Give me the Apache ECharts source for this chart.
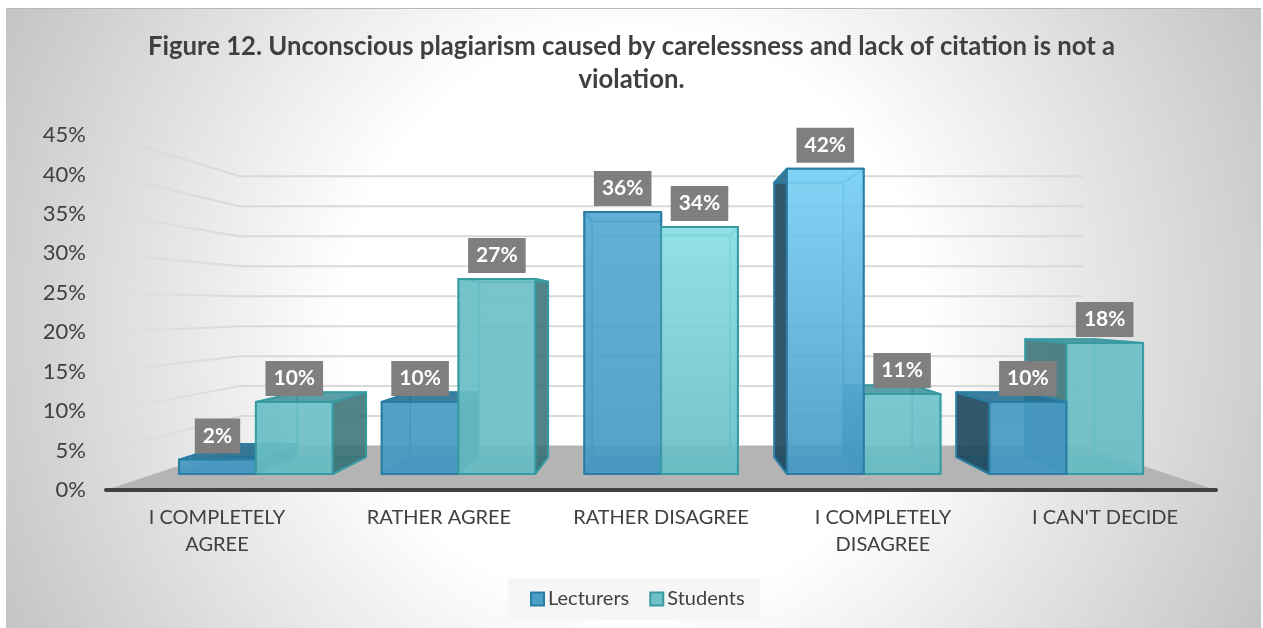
<!DOCTYPE html>
<html><head><meta charset="utf-8">
<style>html,body{margin:0;padding:0;background:#fff}
#bg{position:absolute;left:6px;top:8px;width:1255px;height:620px;box-sizing:border-box;border-top:1px solid #b8b8b8;
background:radial-gradient(circle 700px at 628px 310px,#fff 0%,#fff 41%,#c4c4c4 100%)}
#c{position:absolute;left:0;top:0;width:1263px;height:628px}</style>
<script src="https://cdn.jsdelivr.net/npm/echarts@6/dist/echarts.min.js"></script>
</head><body><div id="bg"></div><div id="c"></div>
<script>
const titleText = 'Figure 12. Unconscious plagiarism caused by carelessness and lack of citation is not a\nviolation.';
const categories = ['I COMPLETELY AGREE', 'RATHER AGREE', 'RATHER DISAGREE', 'I COMPLETELY DISAGREE', "I CAN'T DECIDE"];
const lecturers = [2.0, 10.0, 36.4, 42.4, 10.0];
const students = [10.0, 27.1, 34.3, 11.1, 18.2];
const yTicks = [0, 5, 10, 15, 20, 25, 30, 35, 40, 45];

const FONT = 'Lato, "Open Sans", sans-serif';
const S_BACK = 0.76, S_F = 0.9126, S_B = 0.82, VP_Y = 307, VP_DX = 1, BAR_W = 0.379;

function proj(cs, px, py, s) {
  const vx = cs.x + cs.width / 2 + VP_DX;
  return [vx + (px - vx) * s, VP_Y + (py - VP_Y) * s];
}
function mix(a, b, t) { return a.map((c, k) => Math.round(c + (b[k] - c) * t)); }
function rgba(c, a) { return 'rgba(' + c.join(',') + ',' + a + ')'; }

function boxRenderer(side, pal) {
  return function (params, api) {
    const cs = params.coordSys;
    const i = api.value(0), v = api.value(1);
    const top = api.coord([i, v]), base = api.coord([i, 0]);
    const band = api.size([1, 0])[0];
    const w = band * BAR_W;
    const xl = side === 0 ? top[0] - w : top[0], xr = xl + w;
    const P = (x, y, s) => proj(cs, x, y, s);
    const f = [P(xl, top[1], S_F), P(xr, top[1], S_F), P(xr, base[1], S_F), P(xl, base[1], S_F)];
    const b = [P(xl, top[1], S_B), P(xr, top[1], S_B), P(xr, base[1], S_B), P(xl, base[1], S_B)];
    const rightOfVp = i > 2;
    const z0 = (rightOfVp ? side === 0 : side === 1) ? 20 : 10;
    const lw = 2;
    const poly = (pts, fill, stroke, z, width) => ({
      type: 'polygon', z2: z0 + z, shape: {points: pts},
      style: {fill: fill, stroke: stroke, lineWidth: width || lw, lineJoin: 'round'}, silent: true
    });
    const frontTop = mix(pal.base, pal.bright, pal.glow[i]);
    const frontFill = new echarts.graphic.LinearGradient(0, 0, 0, 1, [
      {offset: 0, color: rgba(frontTop, pal.alpha)}, {offset: 1, color: rgba(pal.base, pal.alpha)}
    ]);
    const outerLeft = (xl + xr) / 2 > cs.x + cs.width / 2 + VP_DX;
    const leftFace = [f[0], b[0], b[3], f[3]];
    const rightFace = [b[1], f[1], f[2], b[2]];
    const children = [
      poly(b, pal.back, pal.inner, 0, 1.5),
      poly([b[3], b[2], f[2], f[3]], pal.bottom, pal.inner, 1, 1.5),
      poly(leftFace, outerLeft ? pal.dark : pal.innerSide, outerLeft ? pal.edge : pal.inner, 2),
      poly(rightFace, outerLeft ? pal.innerSide : pal.dark, outerLeft ? pal.inner : pal.edge, 2),
      poly([b[0], b[1], f[1], f[0]], f[0][1] < VP_Y ? pal.innerSide : pal.topFace, pal.edge, 3),
      poly(f, frontFill, pal.edge, 4),
      {
        type: 'text', z2: 100, silent: true,
        x: (f[0][0] + f[1][0]) / 2, y: f[0][1] - 6,
        style: {
          text: Math.round(v) + '%', fill: '#fff', font: 'bold 21px ' + FONT,
          backgroundColor: '#7F7F7F', padding: [7, 8, 7, 8],
          align: 'center', verticalAlign: 'bottom'
        }
      }
    ];
    return {type: 'group', children: children};
  };
}

const bluePal = {
  base: [70, 152, 194], bright: [124, 210, 247], glow: [0, 0, 0.3, 1, 0], alpha: 0.88,
  back: 'rgba(60,150,190,0.3)', bottom: 'rgba(50,135,175,0.6)',
  dark: 'rgba(28,70,90,0.88)', innerSide: 'rgba(60,155,195,0.4)',
  topFace: 'rgba(36,110,145,0.85)', edge: '#2A7EA3', inner: 'rgba(60,150,190,0.75)'
};
const tealPal = {
  base: [104, 188, 196], bright: [138, 224, 230], glow: [0.1, 0.1, 1, 0.2, 0.1], alpha: 0.88,
  back: 'rgba(90,190,195,0.25)', bottom: 'rgba(80,175,180,0.5)',
  dark: 'rgba(50,105,110,0.8)', innerSide: 'rgba(90,190,195,0.35)',
  topFace: 'rgba(60,140,150,0.8)', edge: '#389AA3', inner: 'rgba(70,175,185,0.75)'
};

const chart = echarts.init(document.getElementById('c'), null, {renderer: 'canvas'});
chart.setOption({
  animation: false,
  backgroundColor: 'transparent',
  title: {
    text: titleText, left: 'center', top: 25,
    textStyle: {fontFamily: FONT, fontWeight: 'bold', fontSize: 25.7, lineHeight: 33, color: '#404040'}
  },
  grid: {left: 106, right: 47, top: 135, bottom: 138, containLabel: false},
  xAxis: {
    type: 'category', data: categories, z: 5,
    axisTick: {show: false},
    axisLine: {lineStyle: {color: '#404040', width: 4, cap: 'round'}},
    axisLabel: {
      color: '#404040', fontFamily: FONT, fontSize: 20, lineHeight: 27, margin: 14, interval: 0,
      formatter: v => v.replace('COMPLETELY ', 'COMPLETELY\n')
    }
  },
  yAxis: {
    type: 'value', min: 0, max: 45, interval: 5,
    axisLine: {show: false}, axisTick: {show: false}, splitLine: {show: false},
    axisLabel: {formatter: '{value}%', color: '#404040', fontFamily: FONT, fontSize: 22, margin: 20}
  },
  legend: {
    data: ['Lecturers', 'Students'], icon: 'rect', left: 508, top: 578, width: 252,
    padding: [11, 16, 11, 22], backgroundColor: '#F6F6F6',
    itemWidth: 13, itemHeight: 13, itemGap: 20,
    textStyle: {color: '#404040', fontFamily: FONT, fontSize: 20, padding: [0, 0, 0, -1]}
  },
  series: [
    {
      type: 'custom', name: 'walls', coordinateSystem: 'cartesian2d', z: 1, silent: true,
      data: yTicks.map(t => [0, t]),
      renderItem(params, api) {
        const cs = params.coordSys, t = api.value(1);
        const y = api.coord([0, t])[1];
        const a = proj(cs, cs.x, y, 1), b = proj(cs, cs.x, y, S_BACK), c = proj(cs, cs.x + cs.width, y, S_BACK);
        const stroke = new echarts.graphic.LinearGradient(a[0], 0, b[0], 0, [
          {offset: 0, color: 'rgba(205,205,205,0)'}, {offset: 0.12, color: 'rgba(205,205,205,0)'}, {offset: 1, color: '#D9D9D9'}
        ], true);
        return {type: 'group', children: [
          {type: 'line', silent: true, shape: {x1: a[0], y1: a[1], x2: b[0], y2: b[1]}, style: {stroke: stroke, lineWidth: 2}},
          {type: 'line', silent: true, shape: {x1: b[0], y1: b[1], x2: c[0], y2: c[1]}, style: {stroke: '#D9D9D9', lineWidth: 2}}
        ]};
      }
    },
    {
      type: 'custom', name: 'floor', coordinateSystem: 'cartesian2d', z: 1, silent: true,
      data: [[0, 0]],
      renderItem(params, api) {
        const cs = params.coordSys, y = api.coord([0, 0])[1];
        return {type: 'polygon', silent: true, shape: {points: [
          proj(cs, cs.x, y, 1), proj(cs, cs.x + cs.width, y, 1),
          proj(cs, cs.x + cs.width, y, S_BACK), proj(cs, cs.x, y, S_BACK)
        ]}, style: {fill: '#B4B4B4'}};
      }
    },
    {
      type: 'custom', name: 'Lecturers', coordinateSystem: 'cartesian2d', z: 2,
      itemStyle: {color: '#4AA0C6', borderColor: '#2A7EA3', borderWidth: 2},
      data: lecturers.map((v, i) => [i, v]), renderItem: boxRenderer(0, bluePal)
    },
    {
      type: 'custom', name: 'Students', coordinateSystem: 'cartesian2d', z: 2,
      itemStyle: {color: '#70C0C8', borderColor: '#389AA3', borderWidth: 2},
      data: students.map((v, i) => [i, v]), renderItem: boxRenderer(1, tealPal)
    }
  ]
});
</script></body></html>
